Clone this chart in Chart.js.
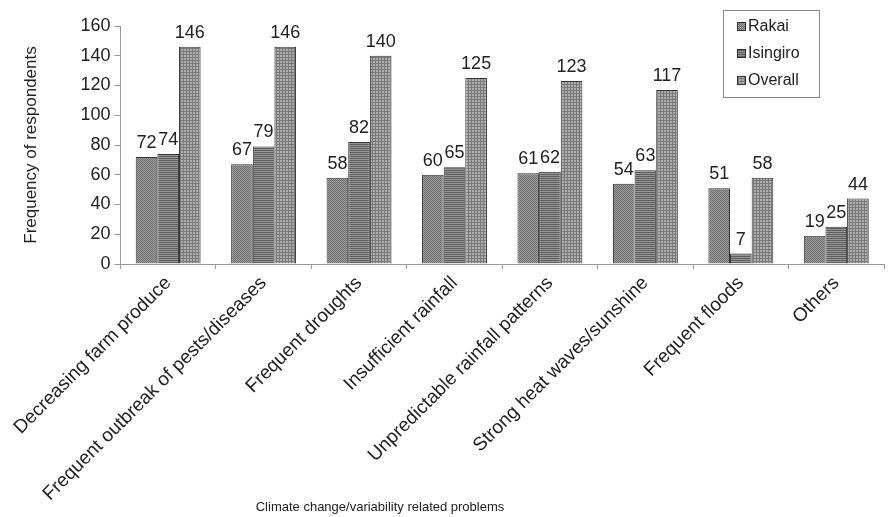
<!DOCTYPE html>
<html lang="en">
<head>
    <meta charset="UTF-8">
    <script src="https://cdn.jsdelivr.net/npm/chart.js"></script>
    <title>Climate problems</title>
    <style>
        html, body { margin: 0; padding: 0; background: #fff; }
        .caixa { width: 888px; height: 517px; position: relative; }
    </style>
</head>
<body>
    <div class="caixa">
        <canvas id="myChart"></canvas>
    </div>
<script>
    // categorias e valores
    const categorias = [
        'Decreasing farm produce',
        'Frequent outbreak of pests/diseases',
        'Frequent droughts',
        'Insufficient rainfall',
        'Unpredictable rainfall patterns',
        'Strong heat waves/sunshine',
        'Frequent floods',
        'Others'
    ];
    const series = ['Rakai', 'Isingiro', 'Overall'];
    const rakai = [72, 67, 58, 60, 61, 54, 51, 19];
    const isingiro = [74, 79, 82, 65, 62, 63, 7, 25];
    const overall = [146, 146, 140, 125, 123, 117, 58, 44];
    const yTicks = [0, 20, 40, 60, 80, 100, 120, 140, 160];

    // padroes cinza das barras
    function padrao(tipo) {
        const c = document.createElement('canvas');
        c.width = 4; c.height = 4;
        const g = c.getContext('2d');
        if (tipo === 0) {
            g.fillStyle = '#9c9c9c'; g.fillRect(0, 0, 4, 4);
            g.fillStyle = '#707070';
            for (let y = 0; y < 4; y++) for (let x = 0; x < 4; x++) if ((x + y) % 2 === 0) g.fillRect(x, y, 1, 1);
        } else if (tipo === 1) {
            g.fillStyle = '#969696'; g.fillRect(0, 0, 4, 4);
            g.fillStyle = '#5e5e5e'; g.fillRect(0, 0, 4, 1); g.fillRect(0, 2, 4, 1);
        } else {
            c.width = 3; c.height = 3;
            g.fillStyle = '#adadad'; g.fillRect(0, 0, 3, 3);
            g.fillStyle = '#7a7a7a'; g.fillRect(0, 0, 3, 1); g.fillRect(0, 0, 1, 3);
        }
        return g.createPattern(c, 'repeat');
    }
    const padroes = [padrao(0), padrao(1), padrao(2)];
    const valores = [rakai, isingiro, overall];

    const fonte = 'Arial, "Liberation Sans", sans-serif';

    // rotulos de valor em cima das barras
    const rotulos = {
        id: 'rotulos',
        afterDatasetsDraw(chart) {
            const ctx = chart.ctx;
            ctx.save();
            ctx.fillStyle = '#222';
            ctx.font = '18px ' + fonte;
            ctx.textAlign = 'center';
            ctx.textBaseline = 'bottom';
            chart.data.datasets.forEach(function (ds, i) {
                chart.getDatasetMeta(i).data.forEach(function (bar, j) {
                    ctx.fillText(ds.data[j], bar.x, bar.y - 5);
                });
            });
            ctx.restore();
        }
    };

    // legenda dentro da area do grafico
    const legenda = {
        id: 'legenda',
        afterDraw(chart) {
            const ctx = chart.ctx;
            const x0 = 723, y0 = 10, w = 96, h = 87;
            ctx.save();
            ctx.fillStyle = '#fff';
            ctx.fillRect(x0, y0, w, h);
            ctx.strokeStyle = '#888';
            ctx.lineWidth = 1;
            ctx.strokeRect(x0 + 0.5, y0 + 0.5, w, h);
            ctx.font = '16px ' + fonte;
            ctx.textBaseline = 'middle';
            series.forEach(function (s, i) {
                const cy = y0 + 16 + i * 27;
                ctx.fillStyle = padroes[i];
                ctx.fillRect(x0 + 14, cy - 4, 8, 8);
                ctx.strokeStyle = '#333';
                ctx.strokeRect(x0 + 14.5, cy - 3.5, 8, 8);
                ctx.fillStyle = '#222';
                ctx.fillText(s, x0 + 25, cy + 1);
            });
            ctx.restore();
        }
    };

    // titulo do eixo x (deslocado para a esquerda como no original)
    const tituloX = {
        id: 'tituloX',
        afterDraw(chart) {
            const ctx = chart.ctx;
            ctx.save();
            ctx.fillStyle = '#222';
            ctx.font = '13px ' + fonte;
            ctx.textAlign = 'center';
            ctx.textBaseline = 'middle';
            ctx.fillText('Climate change/variability related problems', 380, 507);
            ctx.restore();
        }
    };

    const dados = {
        labels: categorias,
        datasets: series.map(function (s, i) {
            return {
                label: s,
                data: valores[i],
                backgroundColor: padroes[i],
                borderColor: '#333',
                borderWidth: 1,
                categoryPercentage: 0.68,
                barPercentage: 1.0
            };
        })
    };

    const config = {
        type: 'bar',
        data: dados,
        options: {
            responsive: true,
            maintainAspectRatio: false,
            animation: false,
            layout: { padding: { top: 26, right: 4, left: 17, bottom: 15 } },
            plugins: {
                legend: { display: false },
                tooltip: { enabled: false }
            },
            scales: {
                x: {
                    grid: { display: true, drawOnChartArea: false, offset: true, tickLength: 5, color: '#999' },
                    border: { color: '#999' },
                    ticks: {
                        minRotation: 45, maxRotation: 45, autoSkip: false,
                        color: '#222', font: { size: 19, family: fonte }
                    }
                },
                y: {
                    min: 0, max: 160,
                    afterBuildTicks: function (axis) {
                        axis.ticks = yTicks.map(function (v) { return { value: v }; });
                    },
                    grid: { display: true, drawOnChartArea: false, tickLength: 6, color: '#999' },
                    border: { color: '#999' },
                    ticks: { color: '#222', font: { size: 18, family: fonte }, padding: 4 },
                    title: {
                        display: true, text: 'Frequency of respondents',
                        color: '#222', font: { size: 17, family: fonte }, padding: { bottom: 35 }
                    }
                }
            }
        },
        plugins: [rotulos, legenda, tituloX]
    };

    let myChart = new Chart(document.getElementById('myChart'), config);
</script>
</body>
</html>
